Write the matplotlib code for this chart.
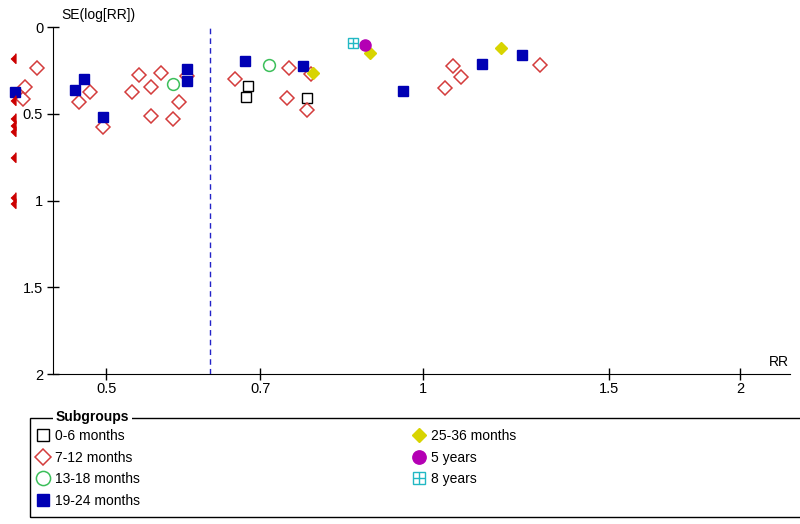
"""
Funnel plot: SE(log[RR]) against RR by follow-up subgroup.
"""
import matplotlib
matplotlib.use('Agg')
import matplotlib.pyplot as plt
from matplotlib.patches import Rectangle
from matplotlib.ticker import NullLocator

# ---------------------------------------------------------------------------
# Data
# ---------------------------------------------------------------------------
rr_0_6 = [0.682, 0.679, 0.775]
se_0_6 = [0.339, 0.402, 0.408]

rr_7_12 = [0.430, 0.419, 0.417, 0.483, 0.471, 0.496, 0.537, 0.564, 0.529, 0.552,
           0.586, 0.551, 0.578, 0.597, 0.663, 0.745, 0.783, 0.743, 0.775,
           1.068, 1.087, 1.049, 1.291]
se_7_12 = [0.235, 0.344, 0.413, 0.373, 0.431, 0.575, 0.275, 0.264, 0.373, 0.344,
           0.431, 0.512, 0.529, 0.281, 0.298, 0.235, 0.269, 0.408, 0.477,
           0.223, 0.287, 0.350, 0.217]

rr_13_18 = [0.578, 0.713]
se_13_18 = [0.327, 0.217]

rr_19_24 = [0.410, 0.467, 0.476, 0.496, 0.597, 0.597, 0.678, 0.768, 0.957, 1.137, 1.241]
se_19_24 = [0.373, 0.362, 0.298, 0.517, 0.240, 0.310, 0.194, 0.223, 0.367, 0.212, 0.160]

rr_25_36 = [0.785, 0.891, 1.186]
se_25_36 = [0.264, 0.148, 0.119]

rr_5y = [0.881]
se_5y = [0.102]

rr_8y = [0.858]
se_8y = [0.091]

# studies whose RR falls left of the plotted range
offscale_se = [0.177, 0.420, 0.523, 0.564, 0.598, 0.748, 0.979, 1.013]

pooled_rr = 0.628

x_ticks = [0.5, 0.7, 1, 1.5, 2]
x_ticklabels = ['0.5', '0.7', '1', '1.5', '2']
y_ticks = [0, 0.5, 1, 1.5, 2]
y_ticklabels = ['0', '0.5', '1', '1.5', '2']

# ---------------------------------------------------------------------------
plt.rcParams['font.family'] = ['Liberation Sans', 'DejaVu Sans']
W, H = 800, 524
fig = plt.figure(figsize=(W / 100, H / 100), dpi=100)
ax = fig.add_axes([6 / W, 1 - 374 / H, 784 / W, (374 - 27.3) / H])

ax.set_xscale('log')
ax.set_xlim(0.4016, 2.23)
ax.set_ylim(2, 0)

ax.axvline(pooled_rr, color='#2323c8', lw=1, ls=(0, (4, 3)), zorder=1)

red = '#d43c3c'
ax.plot(rr_0_6, se_0_6, 's', ms=7, mfc='none', mec='black', mew=1, label='0-6 months')
ax.plot(rr_7_12, se_7_12, 'D', ms=7, mfc='none', mec=red, mew=1.1, label='7-12 months')
ax.plot(rr_13_18, se_13_18, 'o', ms=8.5, mfc='none', mec='#3cbf5a', mew=1.1, label='13-18 months')
ax.plot(rr_19_24, se_19_24, 's', ms=7.2, mfc='#0000b4', mec='#0000b4', label='19-24 months')
ax.plot(rr_25_36, se_25_36, 'D', ms=6.3, mfc='#d8d400', mec='#d8d400', label='25-36 months')
ax.plot(rr_5y, se_5y, 'o', ms=8, mfc='#b400b4', mec='#b400b4', label='5 years')
sq8, = ax.plot(rr_8y, se_8y, 's', ms=7.5, mfc='none', mec='#22b8c4', mew=1)
pl8, = ax.plot(rr_8y, se_8y, '+', ms=7.5, mec='#22b8c4', mew=1)

tri = [(-0.5, 0), (0.5, -1), (0.5, 1)]
ax.plot([0.009] * len(offscale_se), offscale_se, ls='none', marker=tri, ms=7,
        mfc='#cc0000', mec='#cc0000', transform=ax.get_yaxis_transform(), clip_on=False)

# axes styling
for s in ['top', 'right']:
    ax.spines[s].set_visible(False)
ax.spines['left'].set_position(('data', 0.445))
ax.spines['bottom'].set_bounds(0.445, 2.23)
ax.set_xticks(x_ticks)
ax.set_xticklabels(x_ticklabels)
ax.xaxis.set_minor_locator(NullLocator())
ax.set_yticks(y_ticks)
ax.set_yticklabels(y_ticklabels)
ax.tick_params(axis='both', direction='inout', length=8, width=1, labelsize=10.5)
ax.tick_params(axis='x', pad=1.5)
ax.tick_params(axis='y', pad=3)

fig.text(61 / W, 1 - 15 / H, 'SE(log[RR])', fontsize=10, ha='left', va='center')
fig.text(789 / W, 1 - 362 / H, 'RR', fontsize=10, ha='right', va='center')

# ---------------------------------------------------------------------------
# Legend box ("Subgroups")
# ---------------------------------------------------------------------------
fig.add_artist(Rectangle((30 / W, 1 - 517 / H), 780 / W, 99 / H, transform=fig.transFigure,
                         fill=False, ec='black', lw=1))
fig.text(56 / W, 1 - 417 / H, 'Subgroups', fontsize=10, fontweight='bold', ha='left',
         va='center', bbox=dict(fc='white', ec='none', pad=2))

handles, labels = ax.get_legend_handles_labels()
handles.append((sq8, pl8))
labels.append('8 years')
leg_kw = dict(loc='upper left', frameon=False, fontsize=10, handlelength=1.0,
              handletextpad=0.4, borderaxespad=0, borderpad=0, labelspacing=0.55,
              markerscale=1.2)
fig.legend(handles[:4], labels[:4], bbox_to_anchor=(36 / W, 1 - 429 / H), **leg_kw)
fig.legend(handles[4:], labels[4:], bbox_to_anchor=(412 / W, 1 - 429 / H), **leg_kw)

fig.savefig('out.png', dpi=100)
